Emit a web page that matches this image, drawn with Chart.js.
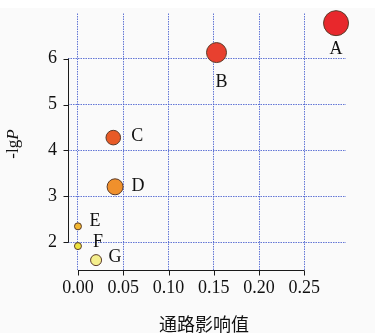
<!DOCTYPE html>
<html>
<head>
<meta charset="utf-8">
<script src="https://cdn.jsdelivr.net/npm/chart.js@4/dist/chart.umd.min.js"></script>
<style>
  html, body { margin: 0; padding: 0; background: #ffffff; }
  #wrap { width: 375px; height: 333px; position: relative; }
</style>
</head>
<body>
<div id="wrap"><canvas id="c" width="375" height="333"></canvas></div>
<script>
// Pathway labels and their values
const pathways = ['A', 'B', 'C', 'D', 'E', 'F', 'G'];
const impactValues = [0.285, 0.153, 0.039, 0.041, 0.000, 0.000, 0.020];
const negLogP = [6.77, 6.13, 4.28, 3.21, 2.35, 1.92, 1.615];
const bubbleSizes = [12.5, 10, 7.3, 8, 3.5, 3.5, 5.5];
const pointColors = ['#e8282c', '#e8402f', '#e85a26', '#f0902c', '#f3b730', '#eee33e', '#f4ee8c'];

// Tick values shown on each axis
const xTickValues = [0, 0.05, 0.10, 0.15, 0.20, 0.25];
const yTickValues = [2, 3, 4, 5, 6];

const xTitle = '通路影响值';

// Where each name sits relative to its bubble
const labelOffsets = {
  A: [0, 26], B: [5, 30], C: [24, -1], D: [23, -1],
  E: [17, -5], F: [20, -4], G: [19, -3]
};

const serif = '"Liberation Serif", "Times New Roman", serif';
const gridBlue = 'rgba(60, 85, 205, 0.8)';

const axesPlugin = {
  id: 'axesAndLabels',
  beforeDraw(chart) {
    const ctx = chart.ctx;
    ctx.save();
    ctx.fillStyle = '#fafafa';
    ctx.fillRect(0, 8, chart.width, chart.height - 8);
    ctx.restore();
  },
  afterDraw(chart) {
    const ctx = chart.ctx;
    const xs = chart.scales.x, ys = chart.scales.y;
    const area = chart.chartArea;
    ctx.save();
    ctx.strokeStyle = '#1a1a1a';
    ctx.lineWidth = 1;
    // left axis
    const lx = Math.round(area.left) + 0.5;
    ctx.beginPath();
    ctx.moveTo(lx, ys.getPixelForValue(yTickValues[0]));
    ctx.lineTo(lx, ys.getPixelForValue(yTickValues[yTickValues.length - 1]));
    yTickValues.forEach(v => {
      const py = Math.round(ys.getPixelForValue(v)) + 0.5;
      ctx.moveTo(lx - 5, py);
      ctx.lineTo(lx, py);
    });
    // bottom axis
    const by = Math.round(area.bottom) + 0.5;
    ctx.moveTo(xs.getPixelForValue(xTickValues[0]), by);
    ctx.lineTo(xs.getPixelForValue(xTickValues[xTickValues.length - 1]), by);
    xTickValues.forEach(v => {
      const px = Math.round(xs.getPixelForValue(v)) + 0.5;
      ctx.moveTo(px, by);
      ctx.lineTo(px, by + 5);
    });
    ctx.stroke();

    // y title: -lgP with italic P, rotated
    ctx.fillStyle = '#111';
    ctx.translate(18, 144);
    ctx.rotate(-Math.PI / 2);
    ctx.textBaseline = 'alphabetic';
    ctx.font = '17px ' + serif;
    const part1 = '-lg';
    const w1 = ctx.measureText(part1).width;
    ctx.font = 'italic 17px ' + serif;
    const w2 = ctx.measureText('P').width;
    const start = -(w1 + w2) / 2;
    ctx.font = '17px ' + serif;
    ctx.textAlign = 'left';
    ctx.fillText(part1, start, 0);
    ctx.font = 'italic 17px ' + serif;
    ctx.fillText('P', start + w1, 0);
    ctx.setTransform(1, 0, 0, 1, 0, 0);

    // x title
    ctx.font = '18px "Noto Sans CJK SC", sans-serif';
    ctx.textAlign = 'center';
    ctx.textBaseline = 'middle';
    ctx.fillStyle = '#111';
    ctx.fillText(xTitle, (area.left + area.right) / 2 - 3, 324);

    // pathway names beside bubbles
    const meta = chart.getDatasetMeta(0);
    ctx.font = '18px ' + serif;
    meta.data.forEach((el, i) => {
      const name = pathways[i];
      const off = labelOffsets[name];
      ctx.fillText(name, el.x + off[0], el.y + off[1]);
    });
    ctx.restore();
  }
};

new Chart(document.getElementById('c'), {
  type: 'bubble',
  data: {
    datasets: [{
      data: pathways.map((p, i) => ({ x: impactValues[i], y: negLogP[i], r: bubbleSizes[i] })),
      backgroundColor: pointColors,
      borderColor: '#5a3b2a',
      borderWidth: 1,
      hoverRadius: 0,
      clip: false
    }]
  },
  options: {
    responsive: false,
    animation: false,
    events: [],
    layout: { padding: { left: 0, top: 13, right: 29, bottom: 0 } },
    plugins: { legend: { display: false }, tooltip: { enabled: false } },
    scales: {
      x: {
        type: 'linear',
        min: -0.011,
        max: 0.296,
        afterBuildTicks(scale) { scale.ticks = xTickValues.map(v => ({ value: v })); },
        afterFit(scale) {
          scale.height = 63;
          scale.paddingLeft = 0; scale.paddingRight = 0;
          scale.paddingTop = 0; scale.paddingBottom = 0;
        },
        border: { display: false, dash: [1.5, 1] },
        grid: { color: gridBlue, lineWidth: 1, drawTicks: false },
        ticks: {
          color: '#111',
          padding: 7,
          maxRotation: 0,
          autoSkip: false,
          font: { family: serif, size: 18 },
          callback: v => Number(v).toFixed(2)
        }
      },
      y: {
        type: 'linear',
        min: 1.40,
        max: 6.98,
        afterBuildTicks(scale) { scale.ticks = yTickValues.map(v => ({ value: v })); },
        afterFit(scale) {
          scale.width = 68;
          scale.paddingLeft = 0; scale.paddingRight = 0;
          scale.paddingTop = 0; scale.paddingBottom = 0;
        },
        border: { display: false, dash: [1.5, 1] },
        grid: { color: gridBlue, lineWidth: 1, drawTicks: false },
        ticks: {
          color: '#111',
          padding: 11,
          autoSkip: false,
          font: { family: serif, size: 18 },
          callback: v => String(v)
        }
      }
    }
  },
  plugins: [axesPlugin]
});
</script>
</body>
</html>
